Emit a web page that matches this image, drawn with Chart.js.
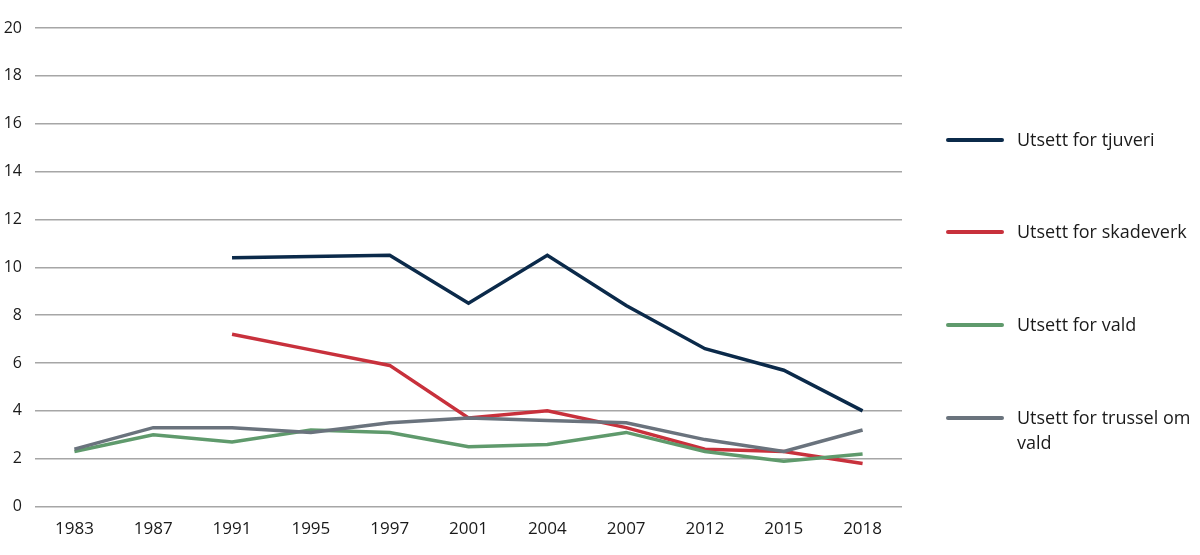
<!DOCTYPE html>
<html>
<head>
<meta charset="utf-8">
<script src="https://cdn.jsdelivr.net/npm/chart.js@4.4.1/dist/chart.umd.min.js"></script>
<style>
  html, body { margin: 0; padding: 0; background: #fff; }
  #wrap { position: relative; width: 1200px; height: 555px; }
  #legend { position: absolute; left: 946px; top: 0; font-family: "Open Sans", sans-serif; font-size: 18px; color: #1a1a1a; }
  .item { position: absolute; left: 0; width: 260px; }
  .item .swatch { position: absolute; left: 0; top: 10px; width: 58px; height: 4px; border-radius: 2px; }
  .item .txt { position: absolute; left: 71px; top: -1px; width: 190px; line-height: 25px; white-space: normal; }
</style>
</head>
<body>
<div id="wrap">
  <canvas id="grafico" width="1200" height="555"></canvas>
  <div id="legend"></div>
</div>
<script>
// år og verdiar (prosent)
const aar = ['1983', '1987', '1991', '1995', '1997', '2001', '2004', '2007', '2012', '2015', '2018'];
const tjuveri = [null, null, 10.4, 10.45, 10.5, 8.5, 10.5, 8.4, 6.6, 5.7, 4.0];
const skadeverk = [null, null, 7.2, 6.55, 5.9, 3.7, 4.0, 3.3, 2.4, 2.3, 1.8];
const vald = [2.3, 3.0, 2.7, 3.2, 3.1, 2.5, 2.6, 3.1, 2.3, 1.9, 2.2];
const trussel = [2.4, 3.3, 3.3, 3.1, 3.5, 3.7, 3.6, 3.5, 2.8, 2.3, 3.2];
const yTicks = [0, 2, 4, 6, 8, 10, 12, 14, 16, 18, 20];

const etiketter = ['Utsett for tjuveri', 'Utsett for skadeverk', 'Utsett for vald', 'Utsett for trussel om vald'];
const fargar = ['#0b2a4a', '#c8313c', '#5f9a6c', '#6a737d'];
const legendY = [128, 220, 313, 406];

const serier = [tjuveri, skadeverk, vald, trussel];

const ctx = document.getElementById('grafico').getContext('2d');
new Chart(ctx, {
    type: 'line',
    data: {
        labels: aar,
        datasets: serier.map((s, i) => ({
            label: etiketter[i],
            data: s,
            borderColor: fargar[i],
            backgroundColor: fargar[i],
            borderWidth: 3.5,
            pointRadius: 0,
            fill: false,
            tension: 0,
            spanGaps: false
        })).reverse()
    },
    options: {
        responsive: false,
        animation: false,
        layout: { padding: { top: 28, right: 298, left: 0, bottom: 4 } },
        plugins: {
            legend: { display: false },
            tooltip: { enabled: false }
        },
        scales: {
            x: {
                offset: true,
                grid: { display: false, drawTicks: false },
                border: { display: false },
                ticks: { color: '#1a1a1a', font: { family: 'Open Sans', size: 17 }, padding: 12, maxRotation: 0 }
            },
            y: {
                min: 0,
                max: 20,
                afterBuildTicks: axis => { axis.ticks = yTicks.map(v => ({ value: v })); },
                afterFit: axis => { axis.width = 35; },
                grid: { color: '#a6a6a6', lineWidth: 1.5, drawTicks: false },
                border: { display: false },
                ticks: { color: '#1a1a1a', font: { family: 'Open Sans', size: 16 }, padding: 13 }
            }
        }
    }
});

// legende til høgre
const legend = document.getElementById('legend');
etiketter.forEach((t, i) => {
    const el = document.createElement('div');
    el.className = 'item';
    el.style.top = legendY[i] + 'px';
    el.innerHTML = '<div class="swatch" style="background:' + fargar[i] + '"></div><div class="txt">' + t + '</div>';
    legend.appendChild(el);
});
</script>
</body>
</html>
